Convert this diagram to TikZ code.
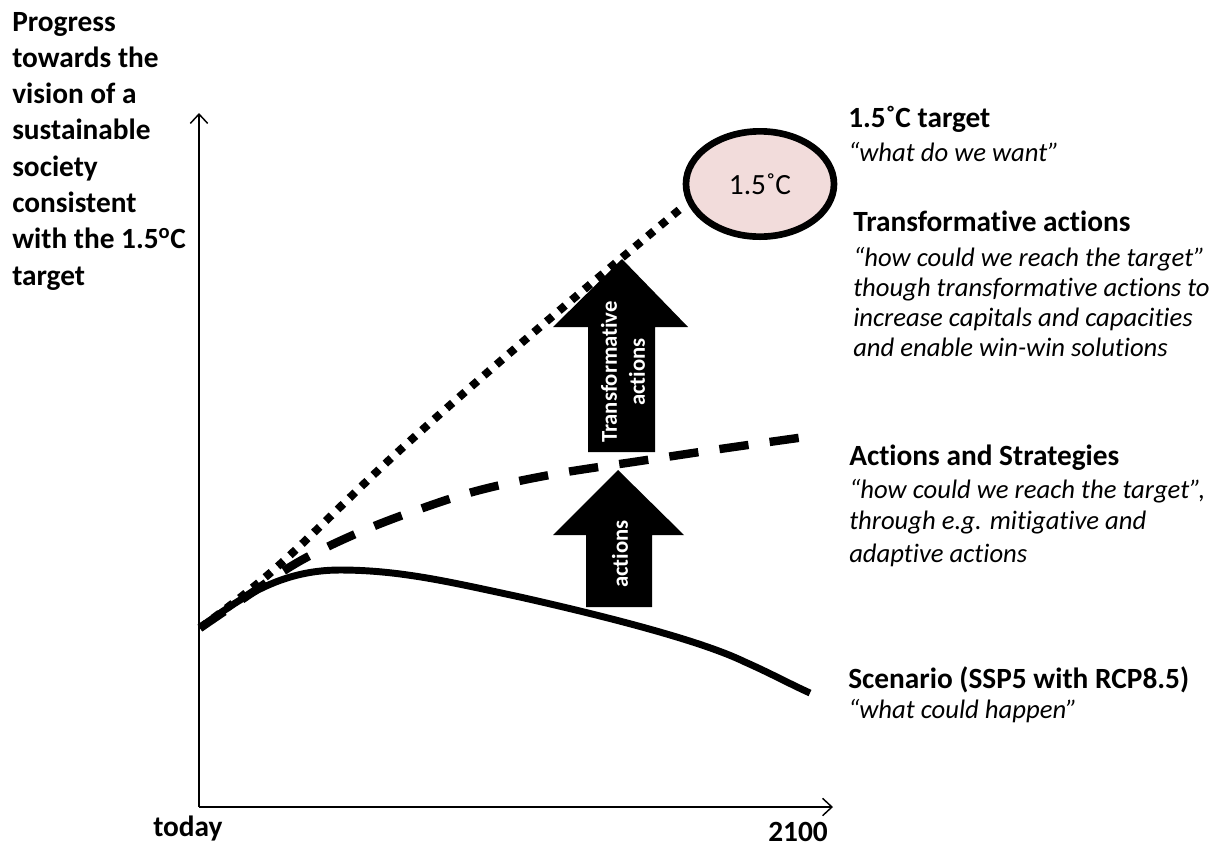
\documentclass[tikz,border=0pt]{standalone}
\usepackage{fontspec}
\setmainfont{Carlito}[Ligatures=NoCommon]
\usetikzlibrary{arrows.meta,shapes.geometric}
\definecolor{pinkfill}{HTML}{F2DCDB}
\begin{document}
\begin{tikzpicture}[x=0.75pt,y=-0.75pt,
  axisline/.style={line width=1.1pt,-{Straight Barb[length=7pt,width=13pt,line width=1.1pt]}},
  scen/.style={line width=5.2pt,line cap=butt},
  dashline/.style={line width=6.3pt,dash pattern=on 22pt off 16pt},
  dotline/.style={line width=6pt,dash pattern=on 6pt off 6.4pt},
  bigarrow/.style={fill=black},
  arrowtext/.style={rotate=90,text=white,align=center,inner sep=0,font=\fontsize{17}{21}\selectfont\bfseries},
  ylab/.style={anchor=base west,inner sep=0,font=\fontsize{22}{27}\selectfont\bfseries},
  head/.style={anchor=base west,inner sep=0,font=\fontsize{22}{27}\selectfont\bfseries},
  desc/.style={anchor=base west,inner sep=0,font=\fontsize{20}{24}\selectfont\itshape},
  target/.style={ellipse,draw=black,line width=5pt,fill=pinkfill,minimum width=111pt,minimum height=79pt,inner sep=0,font=\fontsize{22}{26}\selectfont}
]
\useasboundingbox (0,0) rectangle (1213,847);
% axes
\coordinate (O) at (199,807);
\coordinate (ytip) at (199,113);
\coordinate (xtip) at (833,807);
\draw[axisline] (O) -- (ytip);
\draw[axisline] (O) -- (xtip);
% curves
\draw[dotline] plot[smooth,tension=0.6] coordinates {(200,628) (277,567) (400,450) (540,327) (685,205)};
\draw[dashline] plot[smooth,tension=0.6] coordinates {(200,628) (250,594) (300,561) (360,532) (420,509) (480,490) (555,474) (640,461) (720,449) (805,437)};
\draw[scen] (200,628) .. controls (240,598) and (280,570) .. (340,570)
  .. controls (400,570) and (450,582) .. (520,597)
  .. controls (600,615) and (700,640) .. (745,662)
  .. controls (770,673) and (790,684) .. (810,693);
% target ellipse
\node[target] (tgt) at (760,184) {1.5˚C};
% arrows
\fill[bigarrow] (622,259) -- (688,327) -- (655,327) -- (655,452) -- (588,452) -- (588,327) -- (553,327) -- cycle;
\node[arrowtext] (ta) at (623,372) {Transformative\\actions};
\fill[bigarrow] (618,470) -- (684,535) -- (652,535) -- (652,607) -- (586,607) -- (586,535) -- (553,535) -- cycle;
\node[arrowtext] (aa) at (620,554) {actions};
% y label
\foreach \t [count=\i] in {Progress,towards the,vision of a,sustainable,society,consistent,{with the 1.5\textsuperscript{o}C},target}
  \node[ylab] (L\i) at (12,{31+(\i-1)*36.3}) {\t};
% x labels
\node[head] (today) at (153,836) {today};
\node[head] (y2100) at (768,841) {2100};
% right column
\node[head] (h1) at (848,127) {1.5˚C target};
\node[desc] (d1) at (848,161) {“what do we want”};
\node[head] (h2) at (853,231) {Transformative actions};
\node[desc] (d2a) at (853,266) {“how could we reach the target”};
\node[desc] (d2b) at (853,296) {though transformative actions to};
\node[desc] (d2c) at (853,326) {increase capitals and capacities};
\node[desc] (d2d) at (853,356) {and enable win-win solutions};
\node[head] (h3) at (849,465) {Actions and Strategies};
\node[desc] (d3a) at (849,498) {“how could we reach the target”,};
\node[desc] (d3b) at (849,529) {through e.g. mitigative and};
\node[desc] (d3c) at (849,562) {adaptive actions};
\node[head] (h4) at (848,688) {Scenario (SSP5 with RCP8.5)};
\node[desc] (d4) at (848,718) {“what could happen”};
\end{tikzpicture}
\end{document}
